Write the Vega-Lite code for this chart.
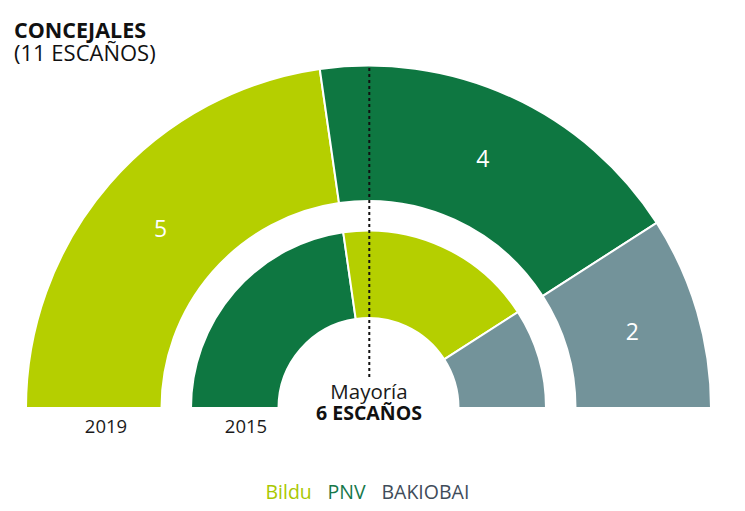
{
  "$schema": "https://vega.github.io/schema/vega-lite/v6.json",
  "autosize": "none",
  "width": 737,
  "height": 346,
  "padding": {"left": 0, "top": 62, "right": 8, "bottom": 103},
  "background": "white",
  "config": {"view": {"stroke": null}, "font": "Open Sans", "legend": {"layout": {"bottom": {"anchor": "middle"}}}},
  "title": {
    "text": "CONCEJALES",
    "subtitle": "(11 ESCAÑOS)",
    "anchor": "start",
    "frame": "group",
    "dx": 14,
    "offset": -3,
    "font": "Open Sans",
    "fontSize": 21.5,
    "fontWeight": "bold",
    "color": "#111111",
    "subtitleFont": "Open Sans",
    "subtitleFontSize": 22,
    "subtitleColor": "#111111",
    "subtitlePadding": 1
  },
  "datasets": {
    "seats": [
      {"year": "2019", "party": "Bildu", "seats": 5, "ord": 1},
      {"year": "2019", "party": "PNV", "seats": 4, "ord": 2},
      {"year": "2019", "party": "BAKIOBAI", "seats": 2, "ord": 3},
      {"year": "2015", "party": "PNV", "seats": 5, "ord": 1},
      {"year": "2015", "party": "Bildu", "seats": 4, "ord": 2},
      {"year": "2015", "party": "BAKIOBAI", "seats": 2, "ord": 3}
    ],
    "notes": [
      {"label": "2019", "x": -262.5, "y": -24.5},
      {"label": "2015", "x": -122.5, "y": -24.5}
    ],
    "majoritynote": [
      {"label": "Mayoría", "x": 0.5, "y": 9.5}
    ],
    "boldnotes": [
      {"label": "6 ESCAÑOS", "x": 0.5, "y": -11.5}
    ],
    "majority": [{"x": 0.8, "y": 31, "y2": 341}]
  },
  "layer": [
    {
      "data": {"name": "seats"},
      "transform": [{"filter": "datum.year === '2019'"}],
      "mark": {"type": "arc", "x": {"expr": "width/2"}, "y": {"expr": "height"}, "radius": 342.5, "radius2": 207, "stroke": "white", "strokeWidth": 2},
      "encoding": {
        "theta": {"field": "seats", "type": "quantitative", "stack": true, "scale": {"domain": [0, 11], "range": [-1.5708, 1.5708]}},
        "order": {"field": "ord", "type": "quantitative"},
        "color": {
          "field": "party", "type": "nominal",
          "scale": {"domain": ["Bildu", "PNV", "BAKIOBAI"], "range": ["#b5cf00", "#0e7741", "#73939a"]},
          "legend": {
            "orient": "bottom",
            "direction": "horizontal",
            "title": null,
            "offset": 75,
            "symbolSize": 1,
            "symbolOpacity": 0,
            "symbolStrokeWidth": 0,
            "labelFont": "Open Sans",
            "labelFontSize": 19.5,
            "labelOffset": -21,
            "columnPadding": 15,
            "labelColor": {"expr": "datum.value === 'Bildu' ? '#a9c800' : datum.value === 'PNV' ? '#17784a' : '#3f4c5a'"}
          }
        }
      }
    },
    {
      "data": {"name": "seats"},
      "transform": [{"filter": "datum.year === '2015'"}],
      "mark": {"type": "arc", "x": {"expr": "width/2"}, "y": {"expr": "height"}, "radius": 177.5, "radius2": 90, "stroke": "white", "strokeWidth": 2},
      "encoding": {
        "theta": {"field": "seats", "type": "quantitative", "stack": true},
        "order": {"field": "ord", "type": "quantitative"},
        "color": {"field": "party", "type": "nominal", "legend": null}
      }
    },
    {
      "data": {"name": "seats"},
      "transform": [{"filter": "datum.year === '2019'"}],
      "mark": {"type": "text", "x": {"expr": "width/2"}, "y": {"expr": "height"}, "radius": 275, "fontSize": 23, "font": "Open Sans", "color": "white", "baseline": "middle", "align": "center", "dy": 2},
      "encoding": {
        "theta": {"field": "seats", "type": "quantitative", "stack": true},
        "order": {"field": "ord", "type": "quantitative"},
        "text": {"field": "seats", "type": "quantitative"}
      }
    },
    {
      "data": {"name": "majority"},
      "mark": {"type": "rule", "color": "#111111", "strokeWidth": 2, "strokeDash": [3, 3]},
      "encoding": {
        "x": {"field": "x", "type": "quantitative", "scale": {"domain": [-368.5, 368.5], "nice": false, "zero": false}, "axis": null},
        "y": {"field": "y", "type": "quantitative", "scale": {"domain": [0, 346], "nice": false}, "axis": null},
        "y2": {"field": "y2"}
      }
    },
    {
      "data": {"name": "notes"},
      "mark": {"type": "text", "fontSize": 18.5, "font": "Open Sans", "color": "#1a1a1a", "baseline": "alphabetic", "align": "center"},
      "encoding": {
        "x": {"field": "x", "type": "quantitative"},
        "y": {"field": "y", "type": "quantitative"},
        "text": {"field": "label", "type": "nominal"}
      }
    },
    {
      "data": {"name": "majoritynote"},
      "mark": {"type": "text", "fontSize": 20.5, "font": "Open Sans", "color": "#1a1a1a", "baseline": "alphabetic", "align": "center"},
      "encoding": {
        "x": {"field": "x", "type": "quantitative"},
        "y": {"field": "y", "type": "quantitative"},
        "text": {"field": "label", "type": "nominal"}
      }
    },
    {
      "data": {"name": "boldnotes"},
      "mark": {"type": "text", "fontSize": 19.5, "font": "Open Sans", "fontWeight": "bold", "color": "#111111", "baseline": "alphabetic", "align": "center"},
      "encoding": {
        "x": {"field": "x", "type": "quantitative"},
        "y": {"field": "y", "type": "quantitative"},
        "text": {"field": "label", "type": "nominal"}
      }
    }
  ]
}
